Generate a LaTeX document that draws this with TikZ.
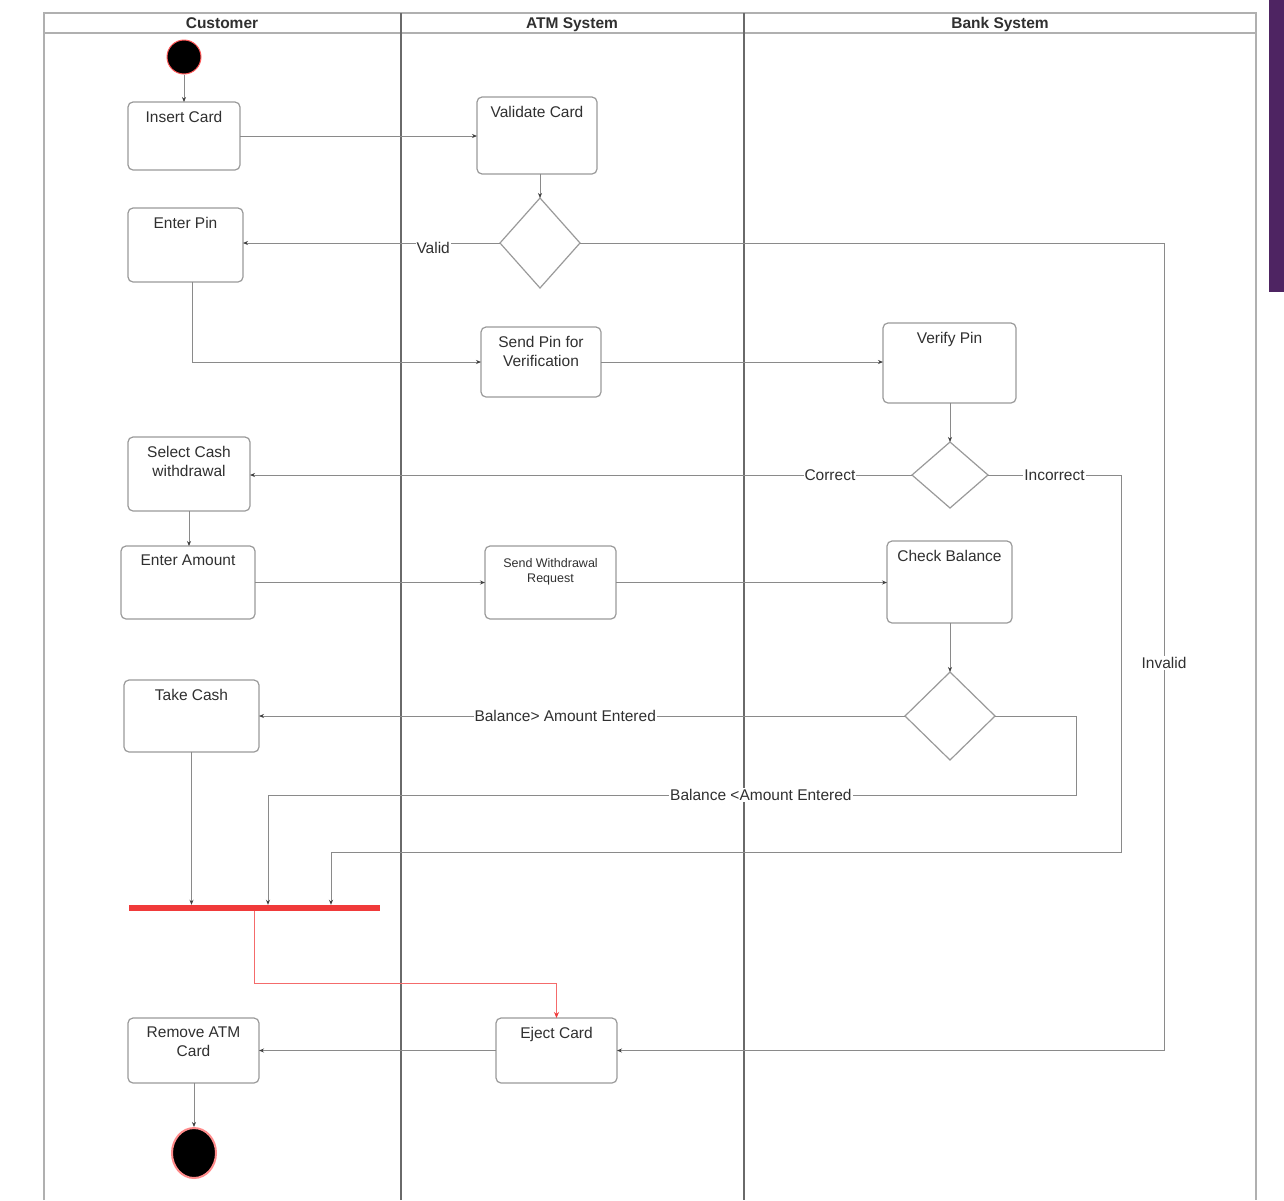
\documentclass[tikz,border=0pt]{standalone}
\usepackage{fontspec}
\setmainfont{Liberation Sans}
\usetikzlibrary{shapes.geometric,arrows.meta,calc}
\definecolor{boxgray}{HTML}{9A9A9A}
\definecolor{linegray}{HTML}{8A8A8A}
\definecolor{lanegray}{HTML}{6A6A6A}
\definecolor{framegray}{HTML}{B0B0B0}
\definecolor{barred}{HTML}{F03A3A}
\definecolor{purplebar}{HTML}{4E2462}
\definecolor{txtcol}{HTML}{303030}
\begin{document}
\begin{tikzpicture}[x=1pt,y=-1pt,
  act/.style={draw=boxgray, line width=1.2pt, rounded corners=5pt, fill=white,
    anchor=north west, inner sep=0pt, outer sep=0pt},
  acttext/.style={anchor=north, yshift=-9pt, align=center, inner sep=0pt,
    text=txtcol, font=\fontsize{15.5}{19}\selectfont},
  decision/.style={diamond, draw=boxgray, line width=1.2pt, fill=white,
    inner sep=0pt, outer sep=0pt},
  flow/.style={draw=linegray, line width=1pt, -{Stealth[length=5pt,width=4pt,color=black!75]}},
  redflow/.style={draw=barred!75, line width=1pt, -{Stealth[length=6pt,width=5pt,color=barred]}},
  lbl/.style={fill=white, inner sep=1pt, text=txtcol, font=\fontsize{15.5}{19}\selectfont},
  hdr/.style={inner sep=0pt, anchor=base, text=txtcol, font=\fontsize{15.5}{18}\selectfont\bfseries}
]
\useasboundingbox (0,0) rectangle (1284,1200);
\fill[white] (0,0) rectangle (1284,1200);

% purple side bar
\fill[purplebar] (1269,0) rectangle (1284,292);

% swimlane frame
\draw[framegray, line width=1.5pt] (44,1200) -- (44,13) -- (1256,13) -- (1256,1200);
\draw[framegray, line width=1.5pt] (44,33) -- (1256,33);
\draw[lanegray, line width=2pt] (401,13) -- (401,1200);
\draw[lanegray, line width=2pt] (744,13) -- (744,1200);
\node[hdr] (hcust) at (222,28) {Customer};
\node[hdr] (hatm) at (572,28) {ATM System};
\node[hdr] (hbank) at (1000,28) {Bank System};

% start / end
\node[circle, fill=black, draw=red!65, line width=1pt, minimum size=34pt, inner sep=0pt] (start) at (184,57) {};
\node[ellipse, fill=black, draw=red!45, line width=2pt, minimum width=44pt, minimum height=50pt, inner sep=0pt] (end) at (194,1153) {};

% activities
\node[act, minimum width=112pt, minimum height=68pt, label={[acttext]north:Insert Card}] (insert) at (128,102) {};
\node[act, minimum width=120pt, minimum height=77pt, label={[acttext]north:Validate Card}] (validate) at (477,97) {};
\node[act, minimum width=115pt, minimum height=74pt, label={[acttext]north:Enter Pin}] (enterpin) at (128,208) {};
\node[act, minimum width=120pt, minimum height=70pt, label={[acttext]north:Send Pin for\\Verification}] (sendpin) at (481,327) {};
\node[act, minimum width=133pt, minimum height=80pt, label={[acttext]north:Verify Pin}] (verify) at (883,323) {};
\node[act, minimum width=122pt, minimum height=74pt, label={[acttext]north:Select Cash\\withdrawal}] (selectcash) at (128,437) {};
\node[act, minimum width=134pt, minimum height=73pt, label={[acttext]north:Enter Amount}] (enteramt) at (121,546) {};
\node[act, minimum width=131pt, minimum height=73pt, label={[acttext, yshift=-3pt, font=\fontsize{12.5}{15}\selectfont]north:Send Withdrawal\\Request}] (sendwd) at (485,546) {};
\node[act, minimum width=125pt, minimum height=82pt, label={[acttext]north:Check Balance}] (checkbal) at (887,541) {};
\node[act, minimum width=135pt, minimum height=72pt, label={[acttext]north:Take Cash}] (takecash) at (124,680) {};
\node[act, minimum width=131pt, minimum height=65pt, label={[acttext]north:Remove ATM\\Card}] (remove) at (128,1018) {};
\node[act, minimum width=121pt, minimum height=65pt, label={[acttext]north:Eject Card}] (eject) at (496,1018) {};

% decisions
\node[decision, minimum width=80pt, minimum height=90pt] (d1) at (540,243) {};
\node[decision, minimum width=76pt, minimum height=66pt] (d2) at (950,475) {};
\node[decision, minimum width=90pt, minimum height=88pt] (d3) at (950,716) {};

% join bar
\node[rectangle, fill=barred, inner sep=0pt, minimum width=251pt, minimum height=6pt] (bar) at (254.5,908) {};

% connectors
\draw[flow] (start) -- (insert.north -| start);
\draw[flow] (insert.east) -- (insert.east -| validate.west);
\draw[flow] (validate.south -| d1) -- (d1.north);
\draw[flow] (d1.west) -- node[lbl, pos=0.26, yshift=-5pt]{Valid} (d1.west -| enterpin.east);
\draw[flow] (d1.east) -- (1164,243) -- node[lbl, pos=0.52]{Invalid} (1164,1050.5) -- (eject.east);
\draw[flow] ([xshift=6.5pt]enterpin.south) |- (sendpin.west);
\draw[flow] (sendpin.east) -- (sendpin.east -| verify.west);
\draw[flow] (verify.south -| d2) -- (d2.north);
\draw[flow] (d2.west) -- node[lbl, pos=0.124]{Correct} (d2.west -| selectcash.east);
\draw[flow] (d2.east) -- node[lbl]{Incorrect} (1121,475) -- (1121,852) -- (331,852) -- ([xshift=76.5pt]bar.north);
\draw[flow] (selectcash.south) -- (selectcash.south |- enteramt.north);
\draw[flow] (enteramt.east) -- (enteramt.east -| sendwd.west);
\draw[flow] (sendwd.east) -- (sendwd.east -| checkbal.west);
\draw[flow] (checkbal.south -| d3) -- (d3.north);
\draw[flow] (d3.west) -- node[lbl, pos=0.526]{Balance> Amount Entered} (d3.west -| takecash.east);
\draw[flow] (d3.east) -- (1076,716) -- (1076,795) -- node[lbl, pos=0.39]{Balance <Amount Entered} (268,795) -- ([xshift=13.5pt]bar.north);
\draw[flow] (takecash.south) -- (takecash.south |- bar.north);
\draw[redflow] (bar.south) -- ++(0,72) -| (eject.north);
\draw[flow] (eject.west) -- (eject.west -| remove.east);
\draw[flow] (remove.south -| end) -- (end.north);
\end{tikzpicture}
\end{document}
